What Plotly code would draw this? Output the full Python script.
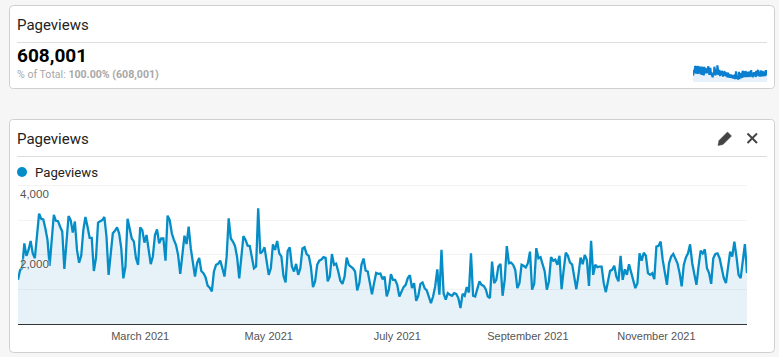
import pandas as pd
import plotly.graph_objects as go

W, H = 779, 357
START_DATE = "2021-01-02"
PAGEVIEWS = [
 1275,1560,1610,2330,1966,2140,2400,2040,1900,2620,3185,3040,3020,2760,2430,1680,2520,3155,2980,2970,
 2810,2670,1590,2430,3120,3000,2640,2960,2140,1770,1970,2710,3090,2810,2490,2490,1530,1900,2930,2970,
 3000,3090,2520,1420,1950,2620,2690,2790,2620,2190,1320,1660,3040,2700,2470,2380,1900,1710,2790,2710,
 2350,2570,2140,1730,1950,2570,2730,2330,2470,2470,1830,3130,3000,2620,2430,2280,1990,1450,1990,2550,
 2310,2810,2190,1760,1370,1760,1910,1530,1470,1350,1110,1050,940,1520,1710,1740,1830,1610,1370,1930,
 3050,2470,2380,2250,1930,1320,2040,2540,2430,2260,2250,1930,1610,1660,3340,2040,2090,2215,1850,1420,
 1610,2300,2140,2400,2040,1950,1390,1200,2110,2215,1660,1515,1735,1420,1610,2180,2215,2020,1970,1660,
 1065,1230,1710,1830,1860,1930,1910,1230,1370,2020,1710,1740,1515,1250,1160,1370,1920,1710,1660,1610,
 1515,970,1180,1710,1890,1545,1515,1180,860,1180,1475,1450,1460,1295,1370,795,990,1440,1275,1275,
 1130,795,940,1065,1130,1325,1410,1035,1180,670,815,1160,1200,1035,970,750,605,795,1085,1580,
 845,2140,890,700,890,845,815,890,870,750,460,870,815,1065,910,2040,815,795,990,1230,
 1130,1100,1005,795,750,1800,1180,1275,1660,1735,815,1275,2250,1755,1775,1710,1565,1035,1180,1710,
 1680,1630,1755,2090,990,1160,2190,1900,1930,1710,1515,990,1230,1930,1830,1860,1710,1970,1005,1565,
 2060,1970,1775,1725,1420,1005,1420,1920,1725,1995,1850,1100,2405,1420,1710,1640,1660,1660,1180,920,
 1230,1535,1565,1680,1370,1230,1970,1275,1580,1420,1725,1515,1275,1035,1180,2040,1830,2060,1970,1470,
 1420,1470,1295,2235,2255,2380,1850,1420,1130,1755,1945,2025,1900,1755,1470,1085,1705,1925,2040,2300,
 1755,1470,1130,1660,2120,2040,2155,1610,1470,1160,1900,2025,2040,1900,1565,1325,1180,1660,2090,1945,
 2380,1945,1420,1325,1850,2310,1470,
]
X_TICK_DATES = ["2021-03-01", "2021-05-01", "2021-07-01", "2021-09-01", "2021-11-01"]
X_TICK_LABELS = ["March 2021", "May 2021", "July 2021", "September 2021", "November 2021"]
Y_GRID = [0, 1000, 2000, 3000, 4000]
Y_LABEL_VALUES = [4000, 2000]
Y_LABELS = ["4,000", "2,000"]
TITLE = "Pageviews"
BIG_NUMBER = "608,001"
dates = pd.date_range(START_DATE, periods=len(PAGEVIEWS)).strftime("%Y-%m-%d").tolist()

px = lambda v: v / W
py = lambda v: 1 - v / H

def card(x0, y0, x1, y1, r=4):
    p = [("M", x0 + r, y0), ("L", x1 - r, y0), ("Q", x1, y0, x1, y0 + r), ("L", x1, y1 - r),
         ("Q", x1, y1, x1 - r, y1), ("L", x0 + r, y1), ("Q", x0, y1, x0, y1 - r), ("L", x0, y0 + r),
         ("Q", x0, y0, x0 + r, y0)]
    return path_shape(p, "#ffffff", "#cfcfcf", 1, "Z")

def path_shape(cmds, fill, line, width, tail=""):
    out = []
    for c in cmds:
        coords = c[1:]
        pts = []
        for i in range(0, len(coords), 2):
            pts.append(f"{px(coords[i]):.5f},{py(coords[i + 1]):.5f}")
        out.append(c[0] + " ".join(pts))
    return dict(type="path", xref="paper", yref="paper", path=" ".join(out) + " " + tail, fillcolor=fill,
                line=dict(color=line, width=width), layer="below")

def hline(x0, x1, y, color="#dddddd", width=1):
    return dict(type="line", xref="paper", yref="paper", x0=px(x0), x1=px(x1), y0=py(y), y1=py(y),
                line=dict(color=color, width=width), layer="below")

def label(text, x, y, size, color, family="Roboto", xanchor="left", bold=False):
    return dict(xref="paper", yref="paper", x=px(x), y=py(y), text=f"<b>{text}</b>" if bold else text,
                showarrow=False, xanchor=xanchor, yanchor="middle", xshift=-2, yshift=0,
                font=dict(size=size, color=color, family=family))

fig = go.Figure()
fig.add_trace(go.Scatter(x=dates, y=PAGEVIEWS, mode="lines", fill="tozeroy", fillcolor="rgba(5,125,190,0.10)",
                         line=dict(color="#058dc7", width=2.3), xaxis="x", yaxis="y", showlegend=False, hoverinfo="skip"))
fig.add_trace(go.Scatter(x=dates, y=PAGEVIEWS, mode="lines", fill="tozeroy", fillcolor="#e6f1fb",
                         line=dict(color="#0a7fd0", width=2.2), xaxis="x2", yaxis="y2", showlegend=False, hoverinfo="skip"))

shapes = [card(9.5, 5.5, 774.5, 88.5), card(9.5, 119.5, 774.5, 352.5), hline(17, 767, 42.5), hline(17, 767, 156.5),
          dict(type="circle", xref="paper", yref="paper", x0=px(17), x1=px(27), y0=py(167), y1=py(177),
               fillcolor="#058dc7", line=dict(width=0)),
          path_shape([("M", 718, 145.5), ("L", 719, 140.5), ("L", 727.5, 132), ("L", 731.5, 136), ("L", 723, 144.5)], "#444444", "#444444", 0.5, "Z"),
          dict(type="line", xref="paper", yref="paper", x0=px(747.5), x1=px(757), y0=py(133.5), y1=py(143),
               line=dict(color="#444444", width=2)),
          dict(type="line", xref="paper", yref="paper", x0=px(747.5), x1=px(757), y0=py(143), y1=py(133.5),
               line=dict(color="#444444", width=2))]

annotations = [
    label(TITLE, 17, 25, 15, "#222222"),
    label(BIG_NUMBER, 17, 55, 19, "#000000", bold=True),
    label("% of Total: <b>100.00% (608,001)</b>", 17, 74, 10.6, "#a8a8a8"),
    label(TITLE, 17, 139, 15, "#222222"),
    label(TITLE, 35, 172.5, 13.2, "#222222"),
]
for v, t in zip(Y_LABEL_VALUES, Y_LABELS):
    annotations.append(dict(xref="paper", yref="y", x=px(20), y=v, text=t, showarrow=False, xanchor="left",
                            yanchor="top", xshift=-2, yshift=-1,
                            font=dict(size=11.5, color="#555555", family="Liberation Sans",
                                      shadow="0 0 3px #ffffff, 0 0 3px #ffffff")))

PX_PER_UNIT = (324 - 185.5) / 4000
Y_TOP = 4100

fig.update_layout(
    width=W, height=H, margin=dict(l=0, r=0, t=0, b=0), autosize=False,
    paper_bgcolor="#f6f6f6", plot_bgcolor="rgba(0,0,0,0)", shapes=shapes, annotations=annotations,
    xaxis=dict(domain=[px(18), px(747)], range=[dates[0], dates[-1]], tickmode="array", tickvals=X_TICK_DATES,
               ticktext=X_TICK_LABELS, showgrid=False, zeroline=False, showline=True, linecolor="#333333", linewidth=1,
               ticks="", ticklabelstandoff=2, tickfont=dict(size=11, color="#555555", family="Liberation Sans")),
    yaxis=dict(domain=[py(324), py(324 - Y_TOP * PX_PER_UNIT)], range=[0, Y_TOP], tickmode="array", tickvals=Y_GRID,
               showticklabels=False, gridcolor="#f3f3f3", gridwidth=1, zeroline=False, ticks=""),
    xaxis2=dict(domain=[px(693), px(767)], range=[dates[0], dates[-1]], anchor="y2", visible=False),
    yaxis2=dict(domain=[py(82), py(62)], range=[0, 4000], anchor="x2", visible=False),
)
fig.write_html("out.html", config=dict(displayModeBar=False),
               post_script="document.body.style.margin='0';document.body.style.background='#f6f6f6';document.body.style.overflow='hidden';")
